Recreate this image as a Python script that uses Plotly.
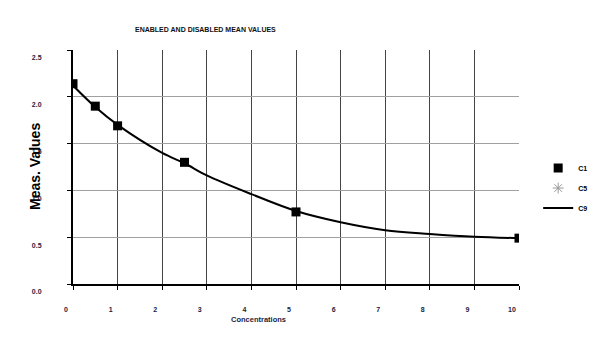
import plotly.graph_objects as go

# Data
c1_x = [0.0, 0.5, 1.0, 2.5, 5.0, 10.0]
c1_y = [2.14, 1.90, 1.69, 1.30, 0.77, 0.49]

c9_x = [0.0, 0.5, 1.0, 2.0, 2.5, 3.0, 4.0, 5.0, 6.0, 7.0, 8.0, 9.0, 10.0]
c9_y = [2.12, 1.89, 1.70, 1.40, 1.29, 1.16, 0.96, 0.78, 0.66, 0.575, 0.535, 0.505, 0.49]

x_ticks = list(range(0, 11))
y_ticks = [0.0, 0.5, 1.0, 1.5, 2.0, 2.5]
y_tick_text = ["0.0", "0.5", "1.0", "1.5", "2.0", "2.5"]

tick_color = "#1c1c40"
fnt = "Liberation Sans, Arial, sans-serif"

fig = go.Figure()
fig.add_trace(go.Scatter(
    x=c1_x, y=c1_y, mode="markers", name="C1", legendgroup="a",
    marker=dict(symbol="square", size=9, color="black"),
))
fig.add_trace(go.Scatter(
    x=[None], y=[None], mode="markers", name="C5", legendgroup="b",
    marker=dict(symbol="asterisk-open", size=9, color="#999999",
                line=dict(color="#999999", width=1)),
))
fig.add_trace(go.Scatter(
    x=c9_x, y=c9_y, mode="lines", name="C9", legendgroup="c",
    line=dict(color="black", width=2, shape="spline", smoothing=1.0),
))

fig.update_layout(
    width=600, height=355,
    margin=dict(l=73, r=81, t=50, b=71, pad=0, autoexpand=False),
    paper_bgcolor="white", plot_bgcolor="white",
    font=dict(family=fnt, size=7, color=tick_color),
    showlegend=True,
    legend=dict(x=1.043, xanchor="left", y=0.41, yanchor="middle",
                font=dict(family=fnt, size=7, color="black", weight="bold"),
                itemwidth=30, tracegroupgap=1, bgcolor="rgba(0,0,0,0)"),
    annotations=[
        dict(text="ENABLED AND DISABLED MEAN VALUES", xref="paper", yref="paper",
             x=(205 - 73) / 446, xanchor="center", y=1.0, yshift=26, showarrow=False,
             font=dict(family=fnt, size=7, color="#111111", weight="bold")),
        dict(text="Concentrations", xref="paper", yref="paper",
             x=(258 - 73) / 446, xanchor="center", y=0.0, yshift=-42, showarrow=False,
             font=dict(family=fnt, size=7.5, color=tick_color, weight="bold")),
        dict(text="Meas. Values", xref="paper", yref="paper", textangle=-90,
             x=0.0, xanchor="center", xshift=-38, y=0.5, showarrow=False,
             font=dict(family=fnt, size=14, color="black", weight="bold")),
    ],
)

fig.update_xaxes(
    range=[0, 10], tickvals=x_ticks, ticktext=[str(v) for v in x_ticks],
    showgrid=True, gridcolor="#444444", gridwidth=1,
    showline=True, linecolor="black", linewidth=2,
    ticks="outside", ticklen=4, tickcolor="black", tickwidth=1,
    ticklabelshift=-7, ticklabelstandoff=14,
    tickfont=dict(family=fnt, size=7, color=tick_color, weight="bold"),
    zeroline=False, fixedrange=True,
)
fig.update_yaxes(
    range=[0, 2.5], tickvals=y_ticks, ticktext=y_tick_text,
    showgrid=True, gridcolor="#a0a0a0", gridwidth=1,
    showline=True, linecolor="black", linewidth=2,
    ticks="outside", ticklen=4, tickcolor="black", tickwidth=1,
    ticklabelshift=8, ticklabelstandoff=24,
    tickfont=dict(family=fnt, size=7, color=tick_color, weight="bold"),
    zeroline=False, fixedrange=True,
)

fig.write_html("out.html")
